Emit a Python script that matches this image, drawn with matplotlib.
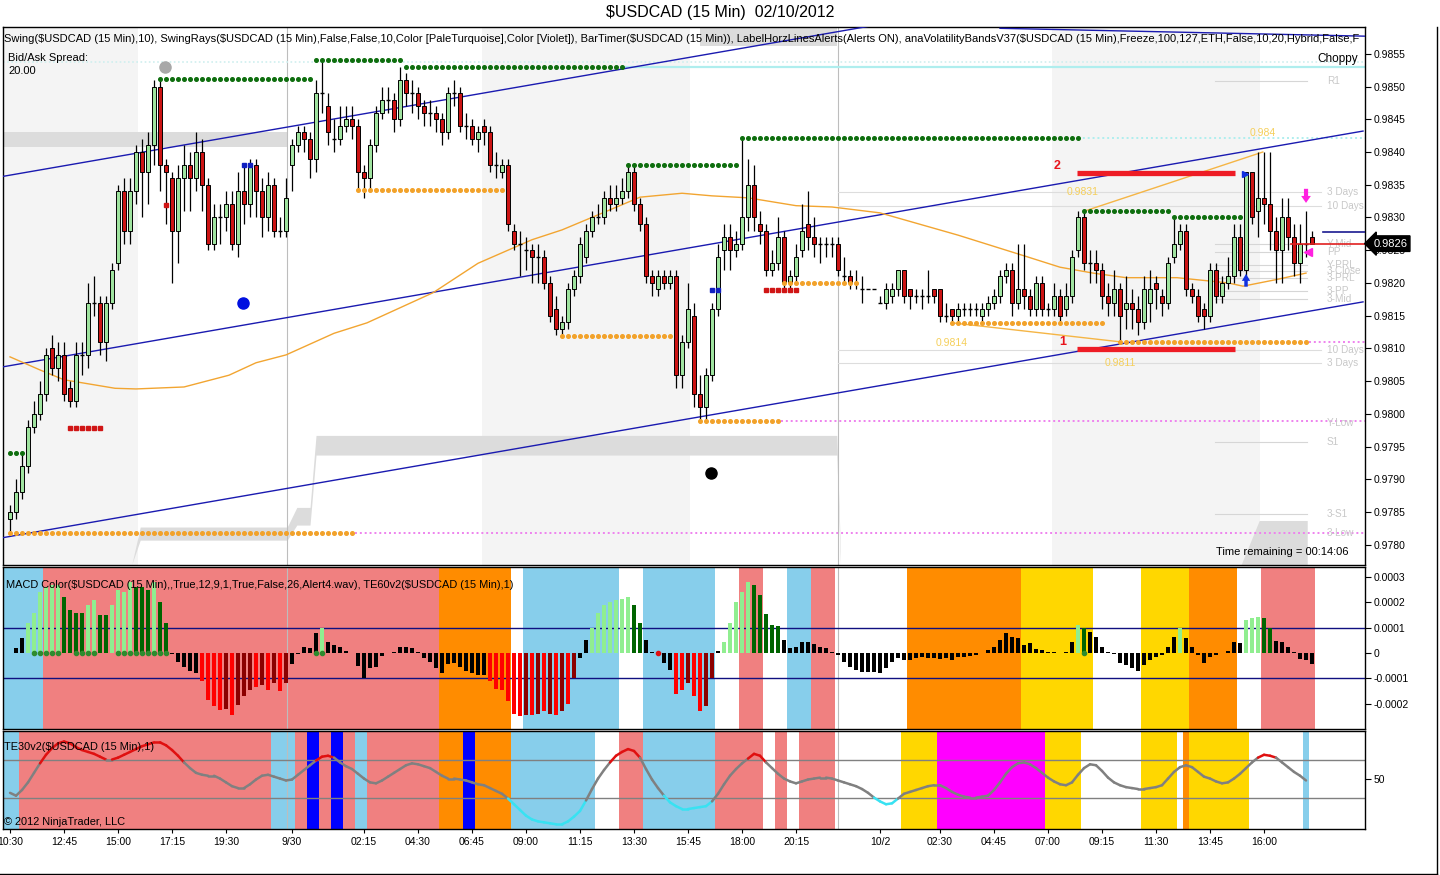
import numpy as np
import matplotlib
matplotlib.use("Agg")
import matplotlib.pyplot as plt
from matplotlib.collections import LineCollection
from matplotlib.lines import Line2D

plt.rcParams['font.family'] = ['Liberation Sans', 'DejaVu Sans']

# ---------------- price bars, $USDCAD 15 min ----------------
opens = [
    .9784, .9785, .9788, .9792, .9798, .9800, .9803, .9810, .9807, .9809,
    .9804, .9802, .9809, .9809, .9817, .9817, .9811, .9817, .9823, .9834,
    .9828, .9834, .9840, .9837, .9841, .9850, .9838, .9836, .9828, .9836,
    .9838, .9836, .9840, .9835, .9826, .9830, .9830, .9832, .9826, .9834,
    .9832, .9838, .9834, .9830, .9835, .9828, .9828, .9838, .9841, .9843,
    .9842, .9839, .9849, .9847, .9842, .9842, .9844, .9845, .9844, .9837,
    .9836, .9841, .9846, .9848, .9848, .9845, .9851, .9849, .9849, .9847,
    .9846, .9846, .9845, .9843, .9849, .9849, .9844, .9844, .9842, .9844,
    .9843, .9838, .9837, .9838, .9828, .9826, .9825, .9825, .9824, .9824,
    .9820, .9816, .9813, .9814, .9819, .9821, .9824, .9828, .9830, .9830,
    .9833, .9832, .9833, .9834, .9837, .9832, .9829, .9821, .9819, .9821,
    .9820, .9821, .9806, .9811, .9815, .9803, .9801, .9806, .9816, .9825,
    .9827, .9825, .9826, .9830, .9835, .9829, .9828, .9822, .9823, .9827,
    .9820, .9821, .9825, .9829, .9827, .9826, .9826, .9826, .9826, .9821,
    .9821, .9820, .9819, .9819, .9819, .9817, .9817, .9818, .9819, .9822,
    .9819, .9818, .9818, .9818, .9819, .9819, .9815, .9816, .9815, .9816,
    .9816, .9816, .9815, .9816, .9817, .9818, .9821, .9822, .9817, .9819,
    .9818, .9816, .9820, .9816, .9816, .9818, .9816, .9818, .9825, .9830,
    .9823, .9823, .9822, .9818, .9817, .9819, .9816, .9817, .9816, .9814,
    .9817, .9820, .9818, .9817, .9824, .9826, .9828, .9819, .9818, .9816,
    .9815, .9822, .9818, .9820, .9821, .9827, .9822, .9837, .9831, .9833,
    .9832, .9828, .9825, .9830, .9827, .9823, .9826, .9827]
highs = [
    .9786, .9790, .9794, .9799, .9802, .9805, .9810, .9812, .9811, .9811,
    .9805, .9811, .9811, .9820, .9821, .9818, .9818, .9823, .9835, .9836,
    .9836, .9841, .9842, .9843, .9851, .9851, .9839, .9837, .9838, .9841,
    .9840, .9843, .9842, .9836, .9832, .9832, .9834, .9834, .9837, .9838,
    .9839, .9839, .9836, .9837, .9836, .9830, .9836, .9842, .9844, .9844,
    .9843, .9851, .9854, .9849, .9845, .9847, .9847, .9847, .9845, .9838,
    .9842, .9847, .9850, .9850, .9849, .9853, .9852, .9851, .9850, .9848,
    .9848, .9847, .9846, .9850, .9851, .9850, .9846, .9845, .9844, .9845,
    .9844, .9840, .9839, .9839, .9829, .9828, .9827, .9826, .9826, .9825,
    .9821, .9818, .9815, .9820, .9822, .9827, .9829, .9831, .9832, .9834,
    .9835, .9835, .9836, .9838, .9838, .9833, .9830, .9822, .9822, .9822,
    .9822, .9822, .9812, .9820, .9817, .9806, .9807, .9817, .9826, .9829,
    .9829, .9828, .9842, .9839, .9838, .9831, .9829, .9825, .9830, .9828,
    .9822, .9826, .9832, .9834, .9830, .9827, .9827, .9827, .9827, .9824,
    .9822, .9822, .9821, .9819, .9819, .9818, .9820, .9820, .9822, .9822,
    .9819, .9819, .9819, .9822, .9819, .9819, .9817, .9816, .9817, .9817,
    .9817, .9817, .9817, .9818, .9819, .9822, .9823, .9823, .9826, .9826,
    .9819, .9821, .9821, .9817, .9820, .9819, .9820, .9825, .9831, .9831,
    .9825, .9825, .9823, .9820, .9822, .9820, .9821, .9819, .9818, .9821,
    .9822, .9821, .9819, .9824, .9830, .9829, .9829, .9820, .9819, .9817,
    .9823, .9823, .9821, .9824, .9829, .9829, .9837, .9837, .9840, .9840,
    .9840, .9830, .9833, .9833, .9829, .9829, .9831, .9828]
lows = [
    .9782, .9784, .9787, .9791, .9797, .9799, .9802, .9806, .9805, .9802,
    .9801, .9801, .9806, .9807, .9815, .9809, .9808, .9816, .9822, .9826,
    .9826, .9832, .9830, .9832, .9838, .9834, .9829, .9820, .9823, .9831,
    .9831, .9834, .9831, .9825, .9825, .9826, .9828, .9825, .9824, .9829,
    .9830, .9830, .9827, .9828, .9827, .9827, .9827, .9834, .9840, .9840,
    .9836, .9837, .9846, .9841, .9840, .9841, .9843, .9842, .9834, .9833,
    .9834, .9840, .9845, .9846, .9843, .9844, .9847, .9846, .9845, .9844,
    .9844, .9843, .9841, .9842, .9847, .9843, .9842, .9841, .9840, .9841,
    .9837, .9836, .9836, .9828, .9825, .9821, .9822, .9820, .9820, .9819,
    .9814, .9812, .9812, .9813, .9818, .9820, .9823, .9827, .9829, .9829,
    .9831, .9831, .9832, .9833, .9831, .9828, .9820, .9818, .9818, .9819,
    .9819, .9804, .9804, .9810, .9801, .9799, .9799, .9805, .9815, .9822,
    .9822, .9824, .9825, .9828, .9828, .9826, .9821, .9821, .9822, .9819,
    .9819, .9820, .9824, .9825, .9824, .9823, .9824, .9824, .9821, .9820,
    .9819, .9819, .9817, .9819, .9819, .9817, .9816, .9817, .9818, .9817,
    .9816, .9817, .9816, .9817, .9817, .9814, .9814, .9814, .9814, .9815,
    .9815, .9815, .9814, .9815, .9816, .9817, .9820, .9815, .9816, .9816,
    .9815, .9815, .9815, .9815, .9815, .9814, .9815, .9817, .9824, .9822,
    .9820, .9820, .9816, .9815, .9815, .9811, .9813, .9813, .9812, .9813,
    .9814, .9816, .9815, .9816, .9823, .9825, .9818, .9817, .9814, .9813,
    .9814, .9817, .9817, .9819, .9820, .9821, .9821, .9829, .9827, .9829,
    .9825, .9820, .9820, .9825, .9821, .9820, .9824, .9826]
closes = [
    .9785, .9788, .9792, .9798, .9800, .9803, .9809, .9807, .9809, .9803,
    .9802, .9809, .9809, .9817, .9817, .9811, .9817, .9822, .9834, .9828,
    .9834, .9840, .9837, .9841, .9850, .9838, .9837, .9828, .9836, .9838,
    .9836, .9840, .9835, .9826, .9830, .9830, .9832, .9826, .9834, .9832,
    .9838, .9834, .9830, .9835, .9828, .9828, .9833, .9841, .9843, .9842,
    .9839, .9849, .9849, .9843, .9842, .9844, .9845, .9844, .9837, .9836,
    .9841, .9846, .9848, .9848, .9845, .9851, .9849, .9849, .9847, .9846,
    .9846, .9845, .9843, .9849, .9849, .9844, .9844, .9842, .9843, .9843,
    .9838, .9838, .9838, .9829, .9826, .9826, .9825, .9824, .9824, .9820,
    .9815, .9813, .9814, .9819, .9821, .9826, .9828, .9830, .9830, .9833,
    .9832, .9833, .9834, .9837, .9832, .9829, .9821, .9820, .9821, .9820,
    .9821, .9806, .9811, .9816, .9803, .9801, .9806, .9816, .9824, .9827,
    .9825, .9826, .9830, .9835, .9830, .9828, .9822, .9823, .9827, .9820,
    .9821, .9824, .9828, .9827, .9826, .9826, .9826, .9826, .9822, .9821,
    .9820, .9820, .9819, .9819, .9819, .9817, .9819, .9819, .9822, .9818,
    .9818, .9818, .9818, .9818, .9818, .9815, .9815, .9815, .9816, .9816,
    .9816, .9816, .9816, .9817, .9818, .9821, .9822, .9817, .9819, .9818,
    .9816, .9820, .9816, .9816, .9818, .9815, .9818, .9824, .9830, .9823,
    .9823, .9822, .9818, .9817, .9819, .9815, .9817, .9816, .9814, .9819,
    .9819, .9819, .9817, .9823, .9826, .9828, .9819, .9818, .9815, .9815,
    .9822, .9818, .9820, .9821, .9827, .9822, .9837, .9830, .9833, .9832,
    .9828, .9825, .9830, .9827, .9823, .9826, .9826, .9826]

# moving average (orange) sampled at bars
ma_bars = [0, 5, 9, 17.5, 21, 29, 36.5, 41, 46, 54, 59.5, 70.5, 78, 87, 92, 98, 105,
           112, 117, 123, 131, 137, 145, 158, 169.5, 175, 180.5, 186, 194.5, 203,
           205.5, 211, 216]
ma_vals = [.98087, .98067, .98052, .98039, .98038, .98041, .98059, .98078, .98090,
           .98123, .98139, .98185, .98230, .98266, .98281, .98304, .98331, .98337,
           .98333, .98330, .98318, .98316, .98307, .98273, .98240, .98224, .98215,
           .98208, .98208, .98200, .98195, .98205, .98215]

# swing highs / lows (start bar, end bar, price)
sw_hi_start = [0, 25, 51, 66, 103, 122, 179, 194]
sw_hi_end = [2, 50, 65, 102, 121, 178, 193, 205]
sw_hi_val = [.97940, .98512, .98541, .98530, .98380, .98422, .98310, .98301]
sw_lo_start = [0, 58, 92, 115, 129, 157, 185]
sw_lo_end = [57, 82, 110, 128, 141, 182, 216]
sw_lo_val = [.97818, .98342, .98119, .97989, .98200, .98139, .98110]

# swing rays
violet_ray_start = [57.5, 128.5, 216.5]
violet_ray_val = [.97818, .97989, .98110]

# regression channel (bar, price) end points
chan_x = [-1.67, 225.5]
chan_a = [.98362, .98723]
chan_b = [.98071, .98432]
chan_c = [.97810, .98171]
chan_d_x = [165, 225.8]
chan_d = [.98589, .98577]

# zigzag swing lines and their labels
zz_hi_x, zz_hi_y = [179.5, 208.8], [.98311, .98400]
zz_lo_x, zz_lo_y = [157, 185], [.98139, .98110]
zz_labels = ['0.984', '0.9831', '0.9814', '0.9811']
zz_label_x = [208.7, 178.8, 157.0, 185.0]
zz_label_y = [.98429, .98339, .98108, .98078]

# support/resistance (thick red) lines
sr_x = [177.8, 204.2]
sr_vals = [.98368, .98099]
sr_names = ['2', '1']
sr_name_x = [174.5, 175.5]

# pivot levels
piv_names = ['R1', 'Y-Mid', 'PP', 'Y-PRL', '3-Close', '3-PRL', '3-PP', '3-Mid', 'Y-Low', 'S1', '3-S1', '3-Low']
piv_vals = [.98509, .98260, .98247, .98227, .98218, .98207, .98188, .98175, .97986, .97957, .97847, .97818]
piv_line = [True, True, True, True, True, True, True, True, False, True, True, False]
range_names = ['3 Days', '10 Days', '10 Days', '3 Days']
range_vals = [.98339, .98318, .98097, .98078]

# volatility band pieces
band1_x, band1_lo, band1_hi = [-1.5, 46.2], [.98408, .98408], [.98431, .98431]
band2_x = [20.3, 21.7, 46.2, 47.8, 50.0, 51.0, 137.8, 138.4]
band2_lo = [.97770, .97807, .97807, .97830, .97830, .97937, .97937, .97770]
band2_hi = [.97770, .97827, .97827, .97857, .97857, .97967, .97967, .97790]
band3_x, band3_lo, band3_hi = [115, 137.8], [.98562, .98562], [.98600, .98600]
band4_x = [205.2, 208.2, 216.2]
band4_lo = [.97770, .97770, .97770]
band4_hi = [.97770, .97837, .97837]

# sessions shading and breaks
sess_start = [-1.5, 78.7, 173.7]
sess_end = [21.3, 113.3, 208.3]
session_breaks = [46.2, 138.0]

# markers
red_sq_bars = [10, 11, 12, 13, 14, 15, 126, 127, 128, 129, 130, 131, 26]
red_sq_vals = [.97978] * 6 + [.98189] * 6 + [.98319]
blue_sq_bars = [39, 40, 117, 118]
blue_sq_vals = [.98380, .98380, .98189, .98189]
dot_bars = [25.8, 38.8, 116.8]
dot_vals = [.98530, .98169, .97909]
dot_cols = ['#A8A8A8', '#0010E0', 'black']
last_price = .98260
ask_line = .98278

# ---------------- MACD panel ----------------
macd_hist = [  # units of 1e-4
    0.0, 0.2, 0.6, 1.2, 1.6, 2.4, 2.6, 2.7, 2.7, 2.2,
    1.7, 1.6, 1.6, 1.9, 2.1, 1.5, 1.5, 1.9, 2.5, 2.4,
    2.8, 2.6, 2.6, 2.5, 2.8, 2.0, 1.2, -0.05, -0.35, -0.55,
    -0.7, -0.8, -1.1, -1.85, -2.1, -2.25, -2.2, -2.45, -2.05, -1.7,
    -1.45, -1.35, -1.25, -1.45, -1.2, -1.5, -1.2, -0.45, -0.05, 0.25,
    0.2, 0.8, 1.0, 0.45, 0.3, 0.25, 0.1, 0.0, -0.5, -1.0,
    -0.6, -0.55, -0.1, 0.0, 0.05, 0.25, 0.22, 0.2, 0.05, -0.2,
    -0.35, -0.6, -0.8, -0.45, -0.4, -0.55, -0.7, -0.8, -0.87, -0.87,
    -1.1, -1.4, -1.45, -1.9, -2.4, -2.5, -2.45, -2.45, -2.4, -2.3,
    -2.4, -2.45, -2.3, -2.0, -1.0, -0.2, 0.5, 1.0, 1.6, 1.9,
    2.0, 2.1, 2.15, 2.2, 1.9, 1.2, 0.5, 0.05, -0.05, -0.4,
    -0.65, -1.6, -1.45, -1.2, -1.7, -2.3, -2.1, -1.0, 0.1, 0.45,
    1.2, 2.0, 2.4, 2.8, 2.7, 2.3, 1.55, 1.1, 1.05, 0.5,
    0.2, 0.25, 0.45, 0.45, 0.35, 0.25, 0.2, 0.03, -0.08, -0.35,
    -0.55, -0.67, -0.74, -0.74, -0.75, -0.8, -0.6, -0.35, -0.2, -0.28,
    -0.28, -0.2, -0.15, -0.18, -0.2, -0.24, -0.2, -0.28, -0.15, -0.15,
    -0.1, -0.08, 0.02, 0.12, 0.25, 0.5, 0.78, 0.65, 0.58, 0.3,
    0.38, 0.18, 0.12, 0.03, 0.03, 0.02, 0.03, 0.45, 1.1, 1.0,
    0.85, 0.65, 0.25, 0.03, -0.05, -0.4, -0.47, -0.6, -0.7, -0.47,
    -0.28, -0.15, -0.08, 0.25, 0.65, 1.0, 0.58, 0.25, -0.08, -0.4,
    -0.15, -0.08, 0.02, 0.08, 0.45, 0.38, 1.3, 1.37, 1.43, 1.37,
    1.0, 0.47, 0.42, 0.22, 0.05, -0.24, -0.28, -0.45]
macd_codes = ("kkkggggggG" "GGGggGGggg" "gGGGgGGkkk" "kkrrrrRrRR" "RrRrRrRkkk"
              "kkgkkkkkkk" "kkkkkkkkkk" "kkkkkkkkkk" "rrrrrrRrRr" "RrRrRkkggg"
              "ggggGGkkrk" "krrRrrRRkg" "ggggGGGGGk" "kkkkkkkkkk" "kkkkkkkkkk"
              "kkkkkkkkkk" "kkkkkkkkkk" "kkkkkkkkgG" "kkkkkkkkkk" "kkkkkgkkkk"
              "kkkkkkgggG" "Gkkkkkkk")
macd_dot_bars = [4, 5, 6, 7, 8, 11, 12, 13, 14, 18, 19, 20, 21, 22, 23, 24, 25, 26, 51, 52, 179]
macd_bg_start = [-2, 6, 72, 86, 106, 122, 130, 134, 150, 169, 189, 197, 209]
macd_bg_end = [5, 71, 83, 101, 117, 125, 133, 137, 168, 180, 196, 204, 217]
macd_bg_col = ['#87CEEB', '#F08080', '#FF8C00', '#87CEEB', '#87CEEB', '#F08080', '#87CEEB',
               '#F08080', '#FF8C00', '#FFD700', '#FFD700', '#FF8C00', '#F08080']

# ---------------- TE30 panel ----------------
te_vals = [
    35, 32, 38, 46, 56, 66, 75, 82, 87, 89,
    87, 83, 80, 78, 76, 73, 70, 70, 72, 75,
    78, 81, 84, 86, 88, 88, 85, 80, 74, 67,
    61, 56, 54, 53, 53, 50, 46, 42, 40, 40,
    44, 49, 53, 54, 52, 50, 48, 49, 54, 59,
    64, 69, 73, 74, 72, 67, 63, 60, 55, 50,
    46, 45, 48, 52, 56, 60, 64, 66, 65, 63,
    61, 57, 53, 50, 50, 49, 48, 46, 44, 43,
    40, 37, 34, 29, 23, 17, 11, 7, 5, 4,
    3, 2, 2, 5, 10, 16, 27, 39, 50, 59,
    67, 74, 78, 81, 79, 72, 60, 49, 40, 32,
    25, 21, 18, 18, 19, 20, 21, 26, 34, 44,
    53, 60, 66, 71, 76, 74, 67, 61, 55, 50,
    47, 45, 47, 49, 50, 51, 51, 50, 48, 46,
    44, 42, 39, 35, 30, 26, 23, 24, 29, 34,
    36, 38, 40, 42, 43, 43, 40, 36, 33, 31,
    30, 30, 31, 32, 38, 46, 55, 62, 66, 67,
    65, 61, 56, 51, 47, 44, 43, 46, 54, 61,
    65, 64, 58, 51, 46, 43, 41, 40, 39, 39,
    40, 41, 43, 50, 57, 62, 64, 62, 57, 52,
    50, 47, 45, 46, 50, 55, 61, 67, 72, 75,
    74, 72, 67, 62, 57, 53, 48]
te_bg_start = [-0.5, 2, 44, 48, 50, 52, 54, 56, 58, 60, 72, 76, 78, 84, 102, 106, 118, 128,
               132, 149, 155, 173, 189, 196, 197, 216]
te_bg_end = [1, 43, 47, 49, 51, 53, 55, 57, 59, 71, 75, 77, 83, 97, 105, 117, 125, 129,
             137, 154, 172, 178, 194, 196, 206, 216]
te_bg_col = ['#87CEEB', '#F08080', '#87CEEB', '#F08080', '#0000FF', '#F08080', '#0000FF',
             '#F08080', '#87CEEB', '#F08080', '#FF8C00', '#0000FF', '#FF8C00', '#87CEEB',
             '#F08080', '#87CEEB', '#F08080', '#F08080', '#F08080', '#FFD700', '#FF00FF',
             '#FFD700', '#FFD700', '#FF8C00', '#FFD700', '#87CEEB']

# time axis labels
tick_bars = [0, 9, 18, 27, 36, 47, 59, 68, 77, 86, 95, 104, 113, 122, 131, 145, 155, 164,
             173, 182, 191, 200, 209]
tick_labels = ['10:30', '12:45', '15:00', '17:15', '19:30', '9/30', '02:15', '04:30',
               '06:45', '09:00', '11:15', '13:30', '15:45', '18:00', '20:15', '10/2',
               '02:30', '04:45', '07:00', '09:15', '11:30', '13:45', '16:00']

# ================= figure =================
W, H = 1440, 875
fig = plt.figure(figsize=(14.4, 8.75), dpi=100)


def fx(px):
    return px / W


def fy(py):
    return 1 - py / H


L, R = 3, 1365
ax_p = fig.add_axes([fx(L), fy(565), fx(R) - fx(L), fy(27) - fy(565)])
ax_m = fig.add_axes([fx(L), fy(729), fx(R) - fx(L), fy(567) - fy(729)])
ax_t = fig.add_axes([fx(L), fy(829), fx(R) - fx(L), fy(731) - fy(829)])

x_lo, x_hi = -1.17, 225.83
for ax in (ax_p, ax_m, ax_t):
    ax.set_xlim(x_lo, x_hi)
    ax.yaxis.tick_right()
    ax.tick_params(axis='y', direction='out', length=4, labelsize=7.5, pad=2, width=0.8)
    ax.tick_params(axis='x', bottom=False, labelbottom=False)
    for s in ax.spines.values():
        s.set_linewidth(1.0)
        s.set_color('black')
    for b in session_breaks:
        ax.axvline(b, color='#BDBDBD', lw=0.8, zorder=1.5)

# ---- price panel ----
ax_p.set_ylim(0.97769, 0.98591)
ax_p.set_yticks(np.arange(0.9780, 0.98551, 0.0005))
ax_p.yaxis.set_major_formatter(matplotlib.ticker.FormatStrFormatter('%.4f'))

for s0, s1 in zip(sess_start, sess_end):
    ax_p.axvspan(s0, s1, color='#F4F4F4', lw=0, zorder=0)

for bx, blo, bhi in [(band1_x, band1_lo, band1_hi), (band2_x, band2_lo, band2_hi),
                     (band3_x, band3_lo, band3_hi), (band4_x, band4_lo, band4_hi)]:
    ax_p.fill_between(bx, blo, bhi, color='#DCDCDC', lw=0, zorder=1)

# rays
ax_p.plot([x_lo, x_hi], [.98538, .98538], color='#CFEFEF', lw=1.2, ls=(0, (1, 1.5)), zorder=2)
ax_p.plot([102, x_hi], [.98530, .98530], color='#AFEEEE', lw=1.6, zorder=2)
ax_p.plot([178, x_hi], [.98422, .98422], color='#AFEEEE', lw=1.4, ls=(0, (1, 1.5)), zorder=2)
for xs, v in zip(violet_ray_start, violet_ray_val):
    ax_p.plot([xs, x_hi], [v, v], color='#EE82EE', lw=1.4, ls=(0, (1, 1.5)), zorder=2)

# pivot lines / labels
for name, v, has_line in zip(piv_names, piv_vals, piv_line):
    if has_line:
        ax_p.plot([200.8, 216.2], [v, v], color='#D6D6D6', lw=0.8, zorder=2)
    ax_p.text(219.5, v, name, fontsize=7.2, color='#C8C8C8', ha='left', va='center', zorder=2)
for name, v in zip(range_names, range_vals):
    ax_p.plot([138, 218.5], [v, v], color='#DDDDDD', lw=0.8, zorder=2)
    ax_p.text(219.5, v, name, fontsize=7.2, color='#C8C8C8', ha='left', va='center', zorder=2)

# channel
for cy in (chan_a, chan_b, chan_c):
    ax_p.plot(chan_x, cy, color='#1A1AB0', lw=1.0, zorder=3)
ax_p.plot(chan_d_x, chan_d, color='#1A1AB0', lw=1.0, zorder=3)

# moving average and zigzag
ax_p.plot(ma_bars, ma_vals, color='#F2A531', lw=1.0, zorder=3)
ax_p.plot(zz_hi_x, zz_hi_y, color='#F5B545', lw=1.0, zorder=3)
ax_p.plot(zz_lo_x, zz_lo_y, color='#F5B545', lw=1.0, zorder=3)
for t, xx, yy in zip(zz_labels, zz_label_x, zz_label_y):
    ax_p.text(xx, yy, t, color='#F5CF5A', fontsize=7.5, ha='center', va='center', zorder=3)

# candles
o = np.array(opens)
h = np.array(highs)
lo = np.array(lows)
c = np.array(closes)
idx = np.arange(len(c))
up = c > o + 1e-9
dn = c < o - 1e-9
dj = ~(up | dn)
ax_p.vlines(idx, lo, h, color='black', lw=0.9, zorder=4)
ax_p.bar(idx[up], (c - o)[up], bottom=o[up], width=0.64, color='#9FE39F',
         edgecolor='black', linewidth=0.7, zorder=5)
ax_p.bar(idx[dn], (o - c)[dn], bottom=c[dn], width=0.64, color='#CC1414',
         edgecolor='black', linewidth=0.7, zorder=5)
ax_p.hlines(c[dj], idx[dj] - 0.4, idx[dj] + 0.4, color='black', lw=1.0, zorder=5)

# swing dots
for s0, s1, v in zip(sw_hi_start, sw_hi_end, sw_hi_val):
    xs = np.arange(s0, s1 + 1)
    ax_p.plot(xs, [v] * len(xs), ls='none', marker='o', ms=2.6, color='#0E6E0E', zorder=6)
for s0, s1, v in zip(sw_lo_start, sw_lo_end, sw_lo_val):
    xs = np.arange(s0, s1 + 1)
    ax_p.plot(xs, [v] * len(xs), ls='none', marker='o', ms=2.6, color='#F2A22A', zorder=6)

# thick S/R lines
for v, name, nx in zip(sr_vals, sr_names, sr_name_x):
    ax_p.plot(sr_x, [v, v], color='#EE1C25', lw=3.8, solid_capstyle='butt', zorder=6)
    ax_p.text(nx, v + 0.00011, name, color='#E8141C', fontsize=9, fontweight='bold',
              ha='center', va='center', zorder=6)

# markers
ax_p.plot(red_sq_bars, red_sq_vals, ls='none', marker='s', ms=3.2, color='#D01515', zorder=7)
ax_p.plot(blue_sq_bars, blue_sq_vals, ls='none', marker='s', ms=3.2, color='#1020C0', zorder=7)
for bx, v, col in zip(dot_bars, dot_vals, dot_cols):
    ax_p.plot(bx, v, marker='o', ms=8, color=col, zorder=7)
ax_p.annotate('', xy=(206, .98218), xytext=(206, .98190),
              arrowprops=dict(arrowstyle='simple,head_width=0.6,head_length=0.5,tail_width=0.25',
                              color='#1030E0', lw=0), zorder=7)
ax_p.plot(205.8, .98366, marker='>', ms=5, color='#1030E0', zorder=7)
ax_p.annotate('', xy=(216, .98318), xytext=(216, .98348),
              arrowprops=dict(arrowstyle='simple,head_width=0.7,head_length=0.5,tail_width=0.3',
                              color='#FF20E0', lw=0), zorder=7)
ax_p.plot(216.4, .98247, marker='<', ms=6, color='#FF20E0', zorder=7)

# last price lines and tag
ax_p.plot([218.8, x_hi], [ask_line, ask_line], color='#1A1A90', lw=1.2, zorder=6)
ax_p.plot([213.5, x_hi], [last_price, last_price], color='#E02020', lw=1.2, zorder=6)
ax_p.text(1.006, last_price, '%.4f' % last_price, transform=ax_p.get_yaxis_transform(),
          fontsize=8, color='white', ha='left', va='center', zorder=20, clip_on=False,
          bbox=dict(boxstyle='larrow,pad=0.25', fc='black', ec='black'))

# ---- MACD panel ----
ax_m.set_ylim(-3.0e-4, 3.4e-4)
macd_map = {'k': 'black', 'g': '#90EE90', 'G': '#006400', 'r': '#FF0000', 'R': '#8B0000'}
for s0, s1, col in zip(macd_bg_start, macd_bg_end, macd_bg_col):
    ax_m.axvspan(s0 - 0.5, s1 + 0.5, color=col, lw=0, zorder=0)
mv = np.array(macd_hist) * 1e-4
mi = np.arange(len(mv))
ax_m.bar(mi, mv, width=0.55, color=[macd_map[k] for k in macd_codes], lw=0, zorder=3)
ax_m.plot(macd_dot_bars, [0] * len(macd_dot_bars), ls='none', marker='o', ms=3,
          color='#2E8B2E', zorder=4)
ax_m.plot(108, 0, marker='o', ms=3, color='#E01010', zorder=4)
ax_m.axhline(1e-4, color='#101080', lw=1.0, zorder=2)
ax_m.axhline(-1e-4, color='#101080', lw=1.0, zorder=2)
ax_m.set_yticks([-2e-4, -1e-4, 0, 1e-4, 2e-4, 3e-4])
ax_m.set_yticklabels(['-0.0002', '-0.0001', '0', '0.0001', '0.0002', '0.0003'])

# ---- TE30 panel ----
ax_t.set_ylim(-3, 100)
for s0, s1, col in zip(te_bg_start, te_bg_end, te_bg_col):
    ax_t.axvspan(s0 - 0.5, s1 + 0.5, color=col, lw=0, zorder=0)
ax_t.axhline(70, color='#808080', lw=1.0, zorder=2)
ax_t.axhline(30, color='#808080', lw=1.0, zorder=2)
te = np.array(te_vals, float)
ti = np.arange(len(te))
pts = np.column_stack([ti, te])
segs = np.stack([pts[:-1], pts[1:]], axis=1)
mid = (te[:-1] + te[1:]) / 2
seg_cols = np.where(mid > 70, '#E01010', np.where(mid < 30, '#38E2F2', '#808080'))
ax_t.add_collection(LineCollection(segs, colors=seg_cols, linewidths=1.8, zorder=3,
                                   capstyle='round', joinstyle='round'))
ax_t.set_yticks([50])
ax_t.set_yticklabels(['50'])
ax_t.set_xticks(tick_bars)
ax_t.set_xticklabels(tick_labels)
ax_t.tick_params(axis='x', bottom=True, labelbottom=True, direction='out', length=3,
                 labelsize=7.5, pad=3, width=0.8)

# ---- texts ----
fig.text(fx(720), fy(13), '$USDCAD (15 Min)  02/10/2012', ha='center', va='center',
         fontsize=11.5, parse_math=False)
header = ('Swing($USDCAD (15 Min),10), SwingRays($USDCAD (15 Min),False,False,10,'
          'Color [PaleTurquoise],Color [Violet]), BarTimer($USDCAD (15 Min)), '
          'LabelHorzLinesAlerts(Alerts ON), anaVolatilityBandsV37($USDCAD (15 Min),'
          'Freeze,100,127,ETH,False,10,20,Hybrid,False,F')
ax_p.text(0.001, 1 - 12 / 538, header, transform=ax_p.transAxes, fontsize=8.05,
          ha='left', va='center', zorder=12, clip_on=True, parse_math=False)
ax_p.text(0.0037, 1 - 31 / 538, 'Bid/Ask Spread:', transform=ax_p.transAxes, fontsize=8,
          ha='left', va='center', zorder=12)
ax_p.text(0.0037, 1 - 44 / 538, '20.00', transform=ax_p.transAxes, fontsize=8,
          ha='left', va='center', zorder=12)
ax_p.text(1 - 7 / 1362, 1 - 32 / 538, 'Choppy', transform=ax_p.transAxes, fontsize=8.5,
          ha='right', va='center', zorder=12)
ax_p.text(1 - 17 / 1362, 13 / 538, 'Time remaining = 00:14:06', transform=ax_p.transAxes,
          fontsize=8, ha='right', va='center', zorder=12)
ax_m.text(0.0022, 1 - 18 / 162, 'MACD Color($USDCAD (15 Min),,True,12,9,1,True,False,26,'
          'Alert4.wav), TE60v2($USDCAD (15 Min),1)', transform=ax_m.transAxes, fontsize=7.9,
          ha='left', va='center', zorder=12, parse_math=False)
ax_t.text(0.0005, 1 - 16 / 98, 'TE30v2($USDCAD (15 Min),1)', transform=ax_t.transAxes,
          fontsize=7.9, ha='left', va='center', zorder=12, parse_math=False)
ax_t.text(0.0005, 7 / 98, '\u00a9 2012 NinjaTrader, LLC', transform=ax_t.transAxes,
          fontsize=7.9, ha='left', va='center', zorder=12)

# window frame
fig.add_artist(Line2D([fx(1437), fx(1437)], [fy(874), fy(27)], color='black', lw=1.0))
fig.add_artist(Line2D([0, fx(1437)], [fy(873.5), fy(873.5)], color='black', lw=1.0))

fig.savefig('out.png', dpi=100)
